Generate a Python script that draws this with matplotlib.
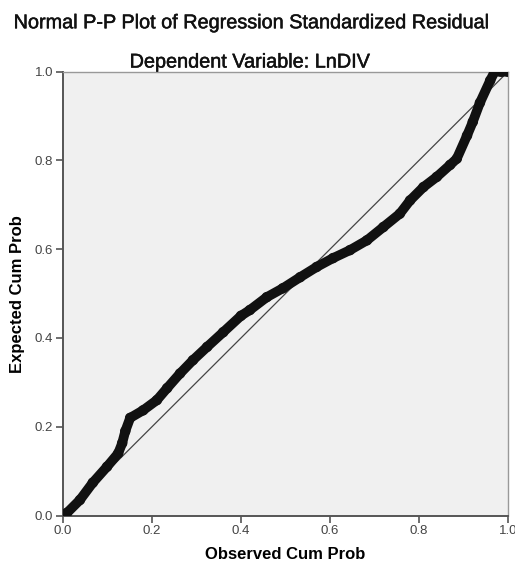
import matplotlib
matplotlib.use('Agg')
import matplotlib.pyplot as plt
import matplotlib.patheffects as pe

plt.rcParams['font.family'] = ['Liberation Sans', 'DejaVu Sans']

# points (observed cum prob, expected cum prob)
observed = [0.0, 0.009, 0.038, 0.067, 0.099, 0.124, 0.133, 0.14, 0.151, 0.18,
            0.211, 0.234, 0.263, 0.292, 0.324, 0.36, 0.40, 0.42, 0.458, 0.494,
            0.533, 0.57, 0.607, 0.645, 0.683, 0.72, 0.757, 0.78, 0.81, 0.84,
            0.87, 0.885, 0.908, 0.921, 0.937, 0.96, 0.97, 0.985, 1.0]
expected = [0.0, 0.006, 0.035, 0.074, 0.11, 0.14, 0.163, 0.19, 0.22, 0.237,
            0.26, 0.287, 0.32, 0.35, 0.38, 0.413, 0.45, 0.463, 0.492, 0.512,
            0.537, 0.56, 0.58, 0.598, 0.62, 0.65, 0.68, 0.71, 0.74, 0.763,
            0.79, 0.804, 0.856, 0.887, 0.93, 0.98, 1.0, 1.0, 1.0]
ticks = [0.0, 0.2, 0.4, 0.6, 0.8, 1.0]
tick_labels = ['0.0', '0.2', '0.4', '0.6', '0.8', '1.0']

fig = plt.figure(figsize=(5.15, 5.69), dpi=100)
ax = fig.add_axes([0.1223, 0.094, 0.864, 0.780])
ax.set_facecolor('#f0f0f0')

ax.plot([0, 1], [0, 1], color='#444444', linewidth=0.9, zorder=2)
ax.plot(observed, expected, color='#111111', linewidth=7,
        solid_capstyle='round', solid_joinstyle='round', zorder=3)
ax.scatter(observed, expected, s=40, facecolors='none', edgecolors='#111111',
           linewidths=1.2, zorder=4)

ax.set_xlim(0, 1)
ax.set_ylim(0, 1)
ax.set_xticks(ticks)
ax.set_xticklabels(tick_labels)
ax.set_yticks(ticks)
ax.set_yticklabels(tick_labels)
ax.tick_params(direction='out', length=5, width=1.2, color='#555555',
               labelcolor='#444444', labelsize=9.5, pad=2)

for side in ['left', 'bottom']:
    ax.spines[side].set_color('#555555')
    ax.spines[side].set_linewidth(1.4)
for side in ['top', 'right']:
    ax.spines[side].set_color('#999999')
    ax.spines[side].set_linewidth(1.0)

ax.set_xlabel('Observed Cum Prob', fontsize=12, fontweight='bold', labelpad=7)
ax.set_ylabel('Expected Cum Prob', fontsize=12, fontweight='bold', labelpad=7)

heavy = [pe.withStroke(linewidth=0.35, foreground='#111111')]
fig.text(0.49, 0.960, 'Normal P-P Plot of Regression Standardized Residual',
         ha='center', va='center', fontsize=14.3, color='#111111',
         path_effects=heavy)
fig.text(0.486, 0.891, 'Dependent Variable: LnDIV',
         ha='center', va='center', fontsize=14.3, color='#111111',
         path_effects=heavy)

fig.savefig('out.png', dpi=100, facecolor='white')
